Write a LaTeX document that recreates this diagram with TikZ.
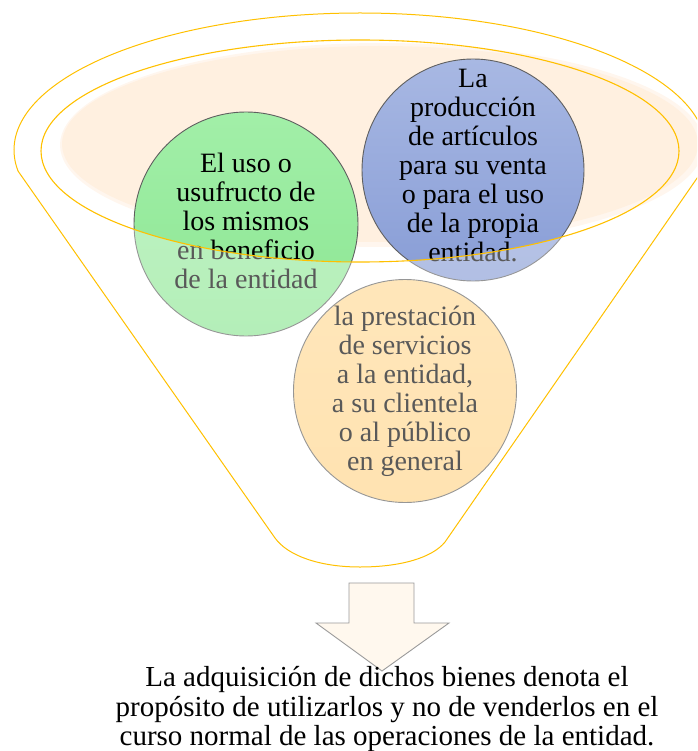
\documentclass[tikz,border=0pt]{standalone}
\usepackage{fontspec}
\setmainfont{Liberation Serif}
\definecolor{rim}{HTML}{FFC000}
\definecolor{peach}{HTML}{FFF0E0}
\definecolor{peachhalo}{HTML}{FFF6EE}
\definecolor{edge}{HTML}{5F5F5F}
\definecolor{grntop}{HTML}{A2EFA8}
\definecolor{grnbot}{HTML}{8CE693}
\definecolor{blutop}{HTML}{A8B8E3}
\definecolor{blubot}{HTML}{889DD6}
\definecolor{orgtop}{HTML}{FFDA96}
\definecolor{orgbot}{HTML}{FFD488}
\definecolor{arrowfill}{HTML}{FFF8EE}
\definecolor{arrowline}{HTML}{9A9A9A}
\begin{document}
\begin{tikzpicture}[x=1pt,y=-1pt,
  bubble/.style={circle, draw=edge, line width=0.9pt, inner sep=0pt},
  txt/.style={align=center, inner sep=0pt, font=\fontsize{28}{29}\selectfont},
  bottomtxt/.style={align=center, inner sep=0pt, font=\fontsize{29}{29.3}\selectfont},
  rimline/.style={draw=rim, line width=1pt},
  veil/.style={fill=white, fill opacity=0.35, even odd rule}]
\useasboundingbox (0,0) rectangle (697,751);
\clip (0,0) rectangle (697,751);
% soft peach fill of the funnel mouth
\fill[peachhalo] (382,145) ellipse [x radius=322, y radius=102];
\fill[peach] (380,144) ellipse [x radius=318, y radius=98];
% circles
\node[bubble, minimum size=224pt, top color=grntop, bottom color=grnbot] (g) at (246,224) {};
\node[bubble, minimum size=222pt, top color=blutop, bottom color=blubot] (b) at (473,170) {};
\node[bubble, minimum size=223pt, top color=orgtop, bottom color=orgbot] (o) at (405,391) {};
\node[txt] (gt) at (246,221) {El uso o\\usufructo de\\los mismos\\en beneficio\\de la entidad};
\node[txt] (bt) at (473,166) {La\\producción\\de artículos\\para su venta\\o para el uso\\de la propia\\entidad.};
\node[txt] (ot) at (405,391) {la prestación\\de servicios\\a la entidad,\\a su clientela\\o al público\\en general};
% fade the parts outside the funnel mouth
\begin{scope}
  \clip (g.center) circle (113.5);
  \fill[veil] (0,0) rectangle (697,751) (360,151) ellipse [x radius=319, y radius=111];
\end{scope}
\begin{scope}
  \clip (b.center) circle (112.5);
  \fill[veil] (0,0) rectangle (697,751) (360,151) ellipse [x radius=319, y radius=111];
\end{scope}
\begin{scope}
  \clip (o.center) circle (113);
  \fill[veil] (0,0) rectangle (697,751) (360,151) ellipse [x radius=319, y radius=111];
\end{scope}
% funnel
\draw[rimline, line width=1.1pt] (360,151) ellipse [x radius=319, y radius=111];
\begin{scope}
  \clip (0,0) rectangle (697,171);
  \draw[rimline] (360,150) ellipse [x radius=346, y radius=137];
\end{scope}
\coordinate (lt) at (18,171);
\coordinate (rt) at (702,171);
\coordinate (lb) at (275,538);
\coordinate (rb) at (445,542);
\draw[rimline] (lt) -- (lb) .. controls (288,556) and (320,567) .. (360,567)
  .. controls (400,567) and (432,558) .. (rb) -- (rt);
% arrow
\draw[draw=arrowline, fill=arrowfill, line width=0.9pt, line join=miter]
  (349,583) -- (414,583) -- (414,623) -- (449,623) -- (382,671) -- (316,623) -- (349,623) -- cycle;
\node[bottomtxt] (res) at (387,709) {La adquisición de dichos bienes denota el\\propósito de utilizarlos y no de venderlos en el\\curso normal de las operaciones de la entidad.};
\end{tikzpicture}
\end{document}
